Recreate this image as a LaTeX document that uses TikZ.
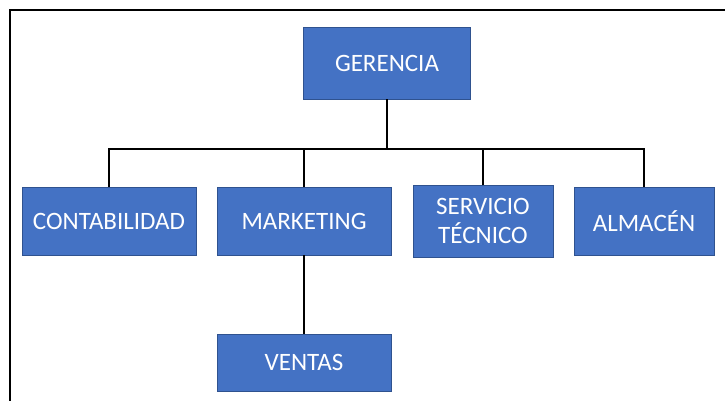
\documentclass[tikz,border=0pt]{standalone}
\usepackage{fontspec}
\setmainfont{Carlito}
\usepackage{tikz}
\definecolor{boxfill}{RGB}{68,114,196}
\definecolor{boxline}{RGB}{47,82,143}
\tikzset{
  unit/.style={draw=boxline, line width=0.75pt, fill=boxfill, text=white, align=center,
    inner sep=0pt, font=\fontsize{25}{29}\selectfont},
  link/.style={line width=1.8pt, black},
  frame/.style={line width=2pt, black}
}

\begin{document}
\begin{tikzpicture}[x=1pt,y=1pt,yscale=-1,xscale=1]
\useasboundingbox (0,0) rectangle (725,401);

%Frame
\draw[frame] (10,401) |- (725,10);

% Text Node
\node[unit, minimum width=167, minimum height=72] (ger) at (387,63) {GERENCIA};
% Text Node
\node[unit, minimum width=174, minimum height=68] (cont) at (109,221) {CONTABILIDAD};
% Text Node
\node[unit, minimum width=174, minimum height=68] (mkt) at (304,221) {MARKETING};
% Text Node
\node[unit, minimum width=140, minimum height=72] (serv) at (483,221) {SERVICIO\\TÉCNICO};
% Text Node
\node[unit, minimum width=140, minimum height=68] (alm) at (644,221) {ALMACÉN};
% Text Node
\node[unit, minimum width=174, minimum height=57] (ven) at (304,362.5) {VENTAS};

%Straight Lines
\coordinate (bar) at (387,149);
\draw[link] (ger.south) -- (bar);
\draw[link] (cont.north) |- (bar);
\draw[link] (mkt.north) |- (bar);
\draw[link] (serv.north) |- (bar);
\draw[link] (alm.north) |- (bar);
\draw[link] (mkt.south) -- (ven.north);

\end{tikzpicture}
\end{document}
